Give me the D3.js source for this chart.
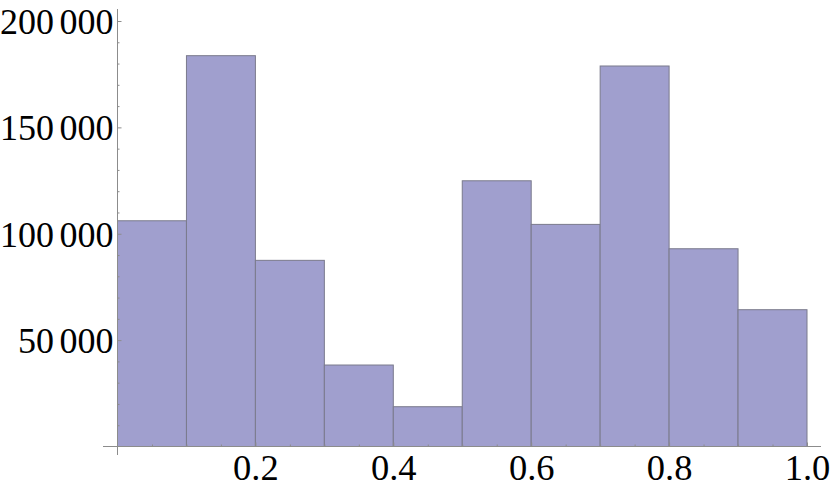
<!DOCTYPE html>
<html><head><meta charset="utf-8">
<script src="https://cdn.jsdelivr.net/npm/d3@7/dist/d3.min.js"></script>
<style>body{margin:0;background:#fff}</style>
</head><body>
<svg id="c" width="830" height="490"></svg>
<script>
const binStarts = [0,0.1,0.2,0.3,0.4,0.5,0.6,0.7,0.8,0.9];
const binWidth = 0.1;
const counts = [106100,183700,87500,38300,18700,124900,104400,178850,92950,64300];
const xTickValues = [0.2,0.4,0.6,0.8,1.0];
const xTickLabels = ["0.2","0.4","0.6","0.8","1.0"];
const xMinorValues = [0.05,0.1,0.15,0.25,0.3,0.35,0.45,0.5,0.55,0.65,0.7,0.75,0.85,0.9,0.95];
const yTickValues = [50000,100000,150000,200000];
const yTickLabels = ["50 000","100 000","150 000","200 000"];
const yMinorValues = [10000,20000,30000,40000,60000,70000,80000,90000,110000,120000,130000,140000,160000,170000,180000,190000];

const svg = d3.select("#c");
const x = d3.scaleLinear().domain([0,1]).range([117.5,807]);
const y = d3.scaleLinear().domain([0,200000]).range([446.5,21]);
const axisColor = "#8c8c8c";

// bars
svg.append("g").selectAll("rect").data(binStarts).join("rect")
  .attr("x", d => x(d))
  .attr("y", (d,i) => y(counts[i]))
  .attr("width", d => x(d+binWidth)-x(d))
  .attr("height", (d,i) => y(0)-y(counts[i]))
  .attr("fill", "rgb(160,159,206)")
  .attr("stroke", "rgb(122,122,140)")
  .attr("stroke-width", 1);

// axis lines
svg.append("line").attr("x1",103).attr("x2",821).attr("y1",y(0)).attr("y2",y(0))
  .attr("stroke",axisColor).attr("stroke-width",1);
svg.append("line").attr("x1",x(0)).attr("x2",x(0)).attr("y1",9).attr("y2",455)
  .attr("stroke",axisColor).attr("stroke-width",1);

const font = "'Liberation Serif','Times New Roman',serif";

// x axis
const gx = svg.append("g").attr("transform",`translate(0,${y(0)})`);
gx.call(d3.axisBottom(x).tickValues(xTickValues).tickFormat((d,i)=>xTickLabels[i]).tickSize(-4).tickPadding(8));
gx.append("g").call(d3.axisBottom(x).tickValues(xMinorValues).tickFormat("").tickSize(-2));
gx.selectAll(".domain").remove();
gx.selectAll("line").attr("stroke",axisColor);
gx.selectAll("text").attr("font-family",font).attr("font-size",36.5).attr("fill","#000");

// y axis
const gy = svg.append("g").attr("transform",`translate(${x(0)},0)`);
gy.call(d3.axisLeft(y).tickValues(yTickValues).tickFormat((d,i)=>yTickLabels[i]).tickSize(-4).tickPadding(4));
gy.append("g").call(d3.axisLeft(y).tickValues(yMinorValues).tickFormat("").tickSize(-2));
gy.selectAll(".domain").remove();
gy.selectAll("line").attr("stroke",axisColor);
gy.selectAll("text").attr("font-family",font).attr("font-size",36).attr("fill","#000")
  .attr("word-spacing",-3.5).attr("dy","0.34em");
</script>
</body></html>
